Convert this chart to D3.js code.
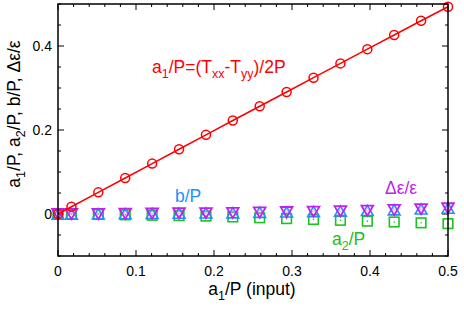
<!DOCTYPE html>
<html>
<head>
<meta charset="utf-8">
<script src="https://cdn.jsdelivr.net/npm/d3@7"></script>
<style>
  body { margin: 0; background: #fff; }
  svg { display: block; font-family: 'Liberation Sans', Arial, sans-serif; }
</style>
</head>
<body>
<div id="chart"></div>
<script>
// input a1/P values
const xInput = [0, 0.0172, 0.0517, 0.0862, 0.1207, 0.1552, 0.1897, 0.2241, 0.2586, 0.2931, 0.3276, 0.3621, 0.3966, 0.4310, 0.4655, 0.5]
// measured a1/P
const a1Vals = [0, 0.0172, 0.0515, 0.0858, 0.1200, 0.1542, 0.1884, 0.2225, 0.2566, 0.2906, 0.3246, 0.3586, 0.3925, 0.4263, 0.4601, 0.4935]
const bVals = [0, 0, 0.0005, 0.001, 0.0015, 0.002, 0.0025, 0.003, 0.004, 0.005, 0.006, 0.007, 0.0085, 0.010, 0.012, 0.014]
const epsVals = [0, 0, 0, 0.0005, 0.001, 0.0015, 0.002, 0.0025, 0.0035, 0.0045, 0.0055, 0.0065, 0.008, 0.0095, 0.0115, 0.0135]
const a2Vals = [0, 0, -0.001, -0.002, -0.003, -0.004, -0.005, -0.007, -0.009, -0.011, -0.013, -0.015, -0.017, -0.019, -0.021, -0.023]

const xTicks = [0, 0.1, 0.2, 0.3, 0.4, 0.5]
const yTicks = [0, 0.2, 0.4]

const width = 464
const height = 309
const margin = { top: 4, right: 16, bottom: 53, left: 58 }

const svg = d3.select('#chart')
  .append('svg')
  .attr('width', width)
  .attr('height', height)

const x = d3.scaleLinear().domain([0, 0.5]).range([margin.left, width - margin.right])
const y = d3.scaleLinear().domain([-0.1, 0.5]).range([height - margin.bottom, margin.top])

const red = '#ff0000'
const blue = '#1e90ff'
const purple = '#c020f0'
const green = '#20c020'

const bigFont = 17.5
const subFont = 12.5
const tickFont = 14

// ticks, all inward and mirrored
const tickG = svg.append('g').attr('stroke', '#000').attr('stroke-width', 1)
const xMinor = d3.range(0, 0.5001, 0.02)
xMinor.forEach(v => {
  const major = xTicks.some(t => Math.abs(t - v) < 1e-6)
  const len = major ? 6 : 3
  tickG.append('line').attr('x1', x(v)).attr('x2', x(v)).attr('y1', y(-0.1)).attr('y2', y(-0.1) - len)
  tickG.append('line').attr('x1', x(v)).attr('x2', x(v)).attr('y1', y(0.5)).attr('y2', y(0.5) + len)
})
const yMinor = d3.range(-0.1, 0.5001, 0.05)
yMinor.forEach(v => {
  const major = yTicks.some(t => Math.abs(t - v) < 1e-6)
  const len = major ? 6 : 3
  tickG.append('line').attr('x1', x(0)).attr('x2', x(0) + len).attr('y1', y(v)).attr('y2', y(v))
  tickG.append('line').attr('x1', x(0.5)).attr('x2', x(0.5) - len).attr('y1', y(v)).attr('y2', y(v))
})

// tick labels
svg.append('g').selectAll('text')
  .data(xTicks)
  .join('text')
  .attr('x', d => x(d))
  .attr('y', y(-0.1) + 20)
  .attr('text-anchor', 'middle')
  .attr('font-size', tickFont)
  .text(d => d === 0 ? '0' : d3.format('.1f')(d))

svg.append('g').selectAll('text')
  .data(yTicks)
  .join('text')
  .attr('x', x(0) - 6)
  .attr('y', d => y(d) + 5)
  .attr('text-anchor', 'end')
  .attr('font-size', tickFont)
  .text(d => d === 0 ? '0' : d3.format('.1f')(d))

// markers
const pts = (vals) => xInput.map((v, i) => [v, vals[i]])

const a2G = svg.append('g')
pts(a2Vals).forEach(([vx, vy]) => {
  a2G.append('rect')
    .attr('x', x(vx) - 4.8).attr('y', y(vy) - 4.8)
    .attr('width', 9.6).attr('height', 9.6)
    .attr('fill', 'none').attr('stroke', green).attr('stroke-width', 1.6)
  a2G.append('circle').attr('cx', x(vx)).attr('cy', y(vy)).attr('r', 0.8).attr('fill', green)
})

const triSize = 60
const triH = Math.sqrt(triSize * 4 / Math.sqrt(3)) * Math.sqrt(3) / 2
const tri = d3.symbol().type(d3.symbolTriangle).size(triSize)
const bG = svg.append('g')
pts(bVals).forEach(([vx, vy]) => {
  bG.append('path')
    .attr('d', tri())
    .attr('transform', `translate(${x(vx)},${y(vy) + triH / 6})`)
    .attr('fill', 'none').attr('stroke', blue).attr('stroke-width', 1.6)
})

const eG = svg.append('g')
pts(epsVals).forEach(([vx, vy]) => {
  eG.append('path')
    .attr('d', tri())
    .attr('transform', `translate(${x(vx)},${y(vy) - triH / 6}) rotate(180)`)
    .attr('fill', 'none').attr('stroke', purple).attr('stroke-width', 1.8)
  eG.append('circle').attr('cx', x(vx)).attr('cy', y(vy) - 1).attr('r', 1.3)
    .attr('fill', 'none').attr('stroke', '#d890ff').attr('stroke-width', 0.8)
})

// a1/P line and circles
const line = d3.line().x(d => x(d[0])).y(d => y(d[1]))
svg.append('path')
  .datum(pts(a1Vals))
  .attr('d', line)
  .attr('fill', 'none')
  .attr('stroke', red)
  .attr('stroke-width', 1.6)

svg.append('g').selectAll('circle')
  .data(pts(a1Vals))
  .join('circle')
  .attr('cx', d => x(d[0]))
  .attr('cy', d => y(d[1]))
  .attr('r', 4.5)
  .attr('fill', 'none')
  .attr('stroke', red)
  .attr('stroke-width', 1.5)

// frame
svg.append('rect')
  .attr('x', x(0)).attr('y', y(0.5))
  .attr('width', x(0.5) - x(0)).attr('height', y(-0.1) - y(0.5))
  .attr('fill', 'none').attr('stroke', '#000').attr('stroke-width', 1.5)

// text with subscripts: parts = [[text, isSub], ...]
function richText(sel, parts) {
  let down = false
  parts.forEach(([t, isSub]) => {
    const ts = sel.append('tspan').text(t)
    if (isSub && !down) { ts.attr('dy', 4.5).attr('font-size', subFont); down = true }
    else if (isSub) ts.attr('font-size', subFont)
    else if (down) { ts.attr('dy', -4.5); down = false }
  })
  return sel
}

richText(svg.append('text')
  .attr('x', 252).attr('y', 295)
  .attr('text-anchor', 'middle').attr('font-size', bigFont),
  [['a'], ['1', true], ['/P (input)']])

richText(svg.append('text')
  .attr('transform', 'translate(20,114) rotate(-90)')
  .attr('text-anchor', 'middle').attr('font-size', bigFont),
  [['a'], ['1', true], ['/P, a'], ['2', true], ['/P, b/P, Δε/ε']])

// annotations
richText(svg.append('text')
  .attr('x', 152).attr('y', 73)
  .attr('font-size', bigFont).attr('fill', red),
  [['a'], ['1', true], ['/P=(T'], ['xx', true], ['-T'], ['yy', true], [')/2P']])

svg.append('text')
  .attr('x', 175).attr('y', 202)
  .attr('font-size', bigFont).attr('fill', blue)
  .text('b/P')

svg.append('text')
  .attr('x', 385).attr('y', 194)
  .attr('font-size', bigFont).attr('fill', purple)
  .text('Δε/ε')

richText(svg.append('text')
  .attr('x', 332).attr('y', 245)
  .attr('font-size', bigFont).attr('fill', green),
  [['a'], ['2', true], ['/P']])
</script>
</body>
</html>
